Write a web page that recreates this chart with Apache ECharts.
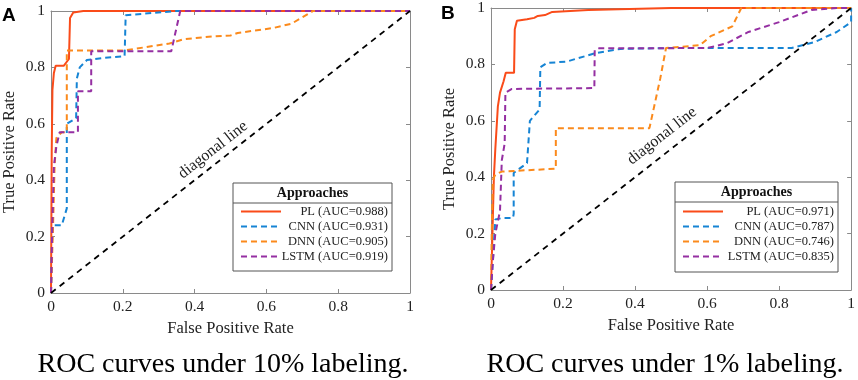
<!DOCTYPE html>
<html>
<head>
<meta charset="utf-8">
<script src="https://cdn.jsdelivr.net/npm/echarts@6/dist/echarts.min.js"></script>
<style>
  html, body { margin: 0; padding: 0; background: #fff; }
  #chart { width: 858px; height: 380px; }
</style>
</head>
<body>
<div id="chart"></div>
<script>
// approaches + AUC (legend text)
const methods = ['PL', 'CNN', 'DNN', 'LSTM']
const aucA = ['0.988', '0.931', '0.905', '0.919']
const aucB = ['0.971', '0.787', '0.746', '0.835']
const captionA = 'ROC curves under 10% labeling.'
const captionB = 'ROC curves under 1% labeling.'

// axis ticks (both axes, both panels)
const tickMin = 0
const tickMax = 1
const tickStep = 0.2

// panel A, 10% labeling  [FPR, TPR]
const plA = [[0, 0], [0.002, 0.5], [0.004, 0.72], [0.008, 0.78], [0.013, 0.806], [0.036, 0.806], [0.044, 0.82],
  [0.05, 0.83], [0.053, 0.975], [0.062, 0.995], [0.09, 1], [1, 1]]
const cnnA = [[0, 0], [0.004, 0.24], [0.03, 0.24], [0.044, 0.3], [0.044, 0.6], [0.07, 0.62], [0.072, 0.76],
  [0.08, 0.8], [0.1, 0.826], [0.15, 0.834], [0.205, 0.84], [0.208, 0.985], [0.35, 1], [1, 1]]
const dnnA = [[0, 0], [0.006, 0.25], [0.01, 0.45], [0.015, 0.55], [0.03, 0.57], [0.044, 0.57], [0.044, 0.86],
  [0.205, 0.86], [0.33, 0.885], [0.37, 0.9], [0.45, 0.91], [0.5, 0.913], [0.52, 0.922], [0.62, 0.94],
  [0.67, 0.955], [0.73, 1], [1, 1]]
const lstmA = [[0, 0], [0.003, 0.2], [0.008, 0.45], [0.015, 0.52], [0.024, 0.57], [0.075, 0.57], [0.075, 0.715],
  [0.112, 0.715], [0.112, 0.857], [0.335, 0.857], [0.36, 1], [1, 1]]

// panel B, 1% labeling
const plB = [[0, 0], [0.004, 0.2], [0.008, 0.4], [0.012, 0.5], [0.019, 0.65], [0.025, 0.7], [0.035, 0.74],
  [0.041, 0.77], [0.064, 0.77], [0.066, 0.925], [0.072, 0.955], [0.1, 0.96], [0.12, 0.965], [0.13, 0.972],
  [0.15, 0.975], [0.17, 0.986], [0.27, 0.993], [0.5, 1], [1, 1]]
const cnnB = [[0, 0], [0.005, 0.1], [0.012, 0.25], [0.03, 0.255], [0.061, 0.255], [0.063, 0.27], [0.063, 0.415],
  [0.1, 0.45], [0.108, 0.6], [0.135, 0.64], [0.137, 0.79], [0.155, 0.805], [0.21, 0.81], [0.29, 0.84],
  [0.36, 0.855], [0.5, 0.858], [0.835, 0.858], [0.9, 0.88], [0.96, 0.915], [1, 0.95], [1, 1]]
const dnnB = [[0, 0], [0.002, 0.2], [0.005, 0.39], [0.012, 0.41], [0.03, 0.42], [0.18, 0.43], [0.18, 0.574],
  [0.44, 0.574], [0.47, 0.75], [0.486, 0.858], [0.58, 0.868], [0.61, 0.9], [0.67, 0.935], [0.695, 1], [1, 1]]
const lstmB = [[0, 0], [0.005, 0.1], [0.012, 0.2], [0.025, 0.28], [0.03, 0.46], [0.038, 0.52], [0.04, 0.7],
  [0.058, 0.713], [0.287, 0.716], [0.288, 0.85], [0.3, 0.857], [0.6, 0.858], [0.655, 0.875], [0.715, 0.915],
  [0.8, 0.95], [0.89, 0.993], [0.96, 1], [1, 1]]

const diagonal = [[0, 0], [1, 1]]

const FONT = 'Liberation Serif'
const colors = ['#fa4b19', '#1684d4', '#fb8a1c', '#952fa2']
const axisGray = '#8a8a8a'

const chart = echarts.init(document.getElementById('chart'))

function xAxes(g) {
  return [{
    gridIndex: g, type: 'value', min: tickMin, max: tickMax, interval: tickStep, position: 'bottom',
    name: 'False Positive Rate', nameLocation: 'middle', nameGap: 23,
    nameTextStyle: { fontFamily: FONT, fontSize: 16.5, color: '#222' },
    axisLine: { onZero: false, lineStyle: { color: axisGray, width: 1 } },
    axisTick: { inside: true, length: 4, lineStyle: { color: axisGray } },
    axisLabel: { fontFamily: FONT, fontSize: 15.5, color: '#222', margin: 6 },
    splitLine: { show: false }
  }, {
    gridIndex: g, type: 'value', min: tickMin, max: tickMax, interval: tickStep, position: 'top',
    axisLine: { onZero: false, lineStyle: { color: axisGray, width: 1 } },
    axisTick: { inside: true, length: 4, lineStyle: { color: axisGray } },
    axisLabel: { show: false },
    splitLine: { show: false }
  }]
}

function yAxes(g) {
  return [{
    gridIndex: g, type: 'value', min: tickMin, max: tickMax, interval: tickStep, position: 'left',
    name: 'True Positive Rate', nameLocation: 'middle', nameGap: 33,
    nameTextStyle: { fontFamily: FONT, fontSize: 16.5, color: '#222' },
    axisLine: { onZero: false, lineStyle: { color: axisGray, width: 1 } },
    axisTick: { inside: true, length: 4, lineStyle: { color: axisGray } },
    axisLabel: { fontFamily: FONT, fontSize: 15.5, color: '#222', margin: 6 },
    splitLine: { show: false }
  }, {
    gridIndex: g, type: 'value', min: tickMin, max: tickMax, interval: tickStep, position: 'right',
    axisLine: { onZero: false, lineStyle: { color: axisGray, width: 1 } },
    axisTick: { inside: true, length: 4, lineStyle: { color: axisGray } },
    axisLabel: { show: false },
    splitLine: { show: false }
  }]
}

function curve(name, data, i, axisIdx) {
  return {
    name: name, type: 'line', data: data, xAxisIndex: axisIdx, yAxisIndex: axisIdx,
    symbol: 'none', clip: false, color: colors[i],
    lineStyle: { color: colors[i], width: 2, type: i === 0 ? 'solid' : [6, 4] },
    animation: false
  }
}

function diag(axisIdx) {
  return {
    name: 'diagonal', type: 'line', data: diagonal, xAxisIndex: axisIdx, yAxisIndex: axisIdx,
    symbol: 'none', clip: false, color: '#000',
    lineStyle: { color: '#000', width: 1.8, type: [6, 5] }, animation: false
  }
}

const namesA = methods.map((m, i) => m + ' (AUC=' + aucA[i] + ')')
const namesB = methods.map((m, i) => m + ' (AUC=' + aucB[i] + ')')
const seriesA = [plA, cnnA, dnnA, lstmA]
const seriesB = [plB, cnnB, dnnB, lstmB]

function legend(names, left, top, w) {
  return {
    data: names, orient: 'vertical', left: left, top: top,
    itemWidth: 40, itemHeight: 10, itemGap: 2, padding: 0,
    selectedMode: false, z: 6,
    itemStyle: { opacity: 0 }, // hide the circle symbol, keep only the line sample
    formatter: n => '{t|' + n + '}',
    textStyle: {
      rich: { t: { width: w, align: 'right', fontFamily: FONT, fontSize: 12.5, color: '#222', lineHeight: 14 } }
    }
  }
}

function legendBox(x, y, w, h, sepY) {
  return [
    { type: 'rect', z: 5, shape: { x: x, y: y, width: w, height: h },
      style: { fill: '#fff', stroke: '#555', lineWidth: 1 } },
    { type: 'line', z: 5, shape: { x1: x, y1: sepY, x2: x + w, y2: sepY },
      style: { stroke: '#555', lineWidth: 1 } },
    { type: 'text', z: 6, x: x + w / 2, y: (y + sepY) / 2,
      style: { text: 'Approaches', fontFamily: FONT, fontSize: 14, fontWeight: 'bold', fill: '#111',
        align: 'center', verticalAlign: 'middle' } }
  ]
}

const ang = Math.atan2(282, 361)

chart.setOption({
  backgroundColor: '#fff',
  animation: false,
  grid: [
    { left: 49, top: 11, width: 361, height: 282 },
    { left: 491, top: 8, width: 362, height: 282 }
  ],
  xAxis: [...xAxes(0), ...xAxes(1)],
  yAxis: [...yAxes(0), ...yAxes(1)],
  legend: [legend(namesA, 240, 205, 102), legend(namesB, 682, 205, 106)],
  series: [
    ...seriesA.map((d, i) => curve(namesA[i], d, i, 0)),
    diag(0),
    ...seriesB.map((d, i) => curve(namesB[i], d, i, 2)),
    diag(2)
  ],
  graphic: [
    ...legendBox(233, 183, 159, 88, 203),
    ...legendBox(675, 182, 163, 90, 202),
    { type: 'text', x: 213, y: 150, rotation: ang,
      style: { text: 'diagonal line', fontFamily: FONT, fontSize: 16, fill: '#222', align: 'center', verticalAlign: 'middle' } },
    { type: 'text', x: 662, y: 136, rotation: ang,
      style: { text: 'diagonal line', fontFamily: FONT, fontSize: 16, fill: '#222', align: 'center', verticalAlign: 'middle' } },
    { type: 'text', x: 2, y: 6,
      style: { text: 'A', fontFamily: 'Liberation Sans', fontWeight: 'bold', fontSize: 19, fill: '#000' } },
    { type: 'text', x: 441, y: 4,
      style: { text: 'B', fontFamily: 'Liberation Sans', fontWeight: 'bold', fontSize: 19, fill: '#000' } },
    { type: 'text', x: 223, y: 365,
      style: { text: captionA, fontFamily: FONT, fontSize: 28, fill: '#000', align: 'center', verticalAlign: 'middle' } },
    { type: 'text', x: 665, y: 365,
      style: { text: captionB, fontFamily: FONT, fontSize: 28, fill: '#000', align: 'center', verticalAlign: 'middle' } }
  ]
})
</script>
</body>
</html>
